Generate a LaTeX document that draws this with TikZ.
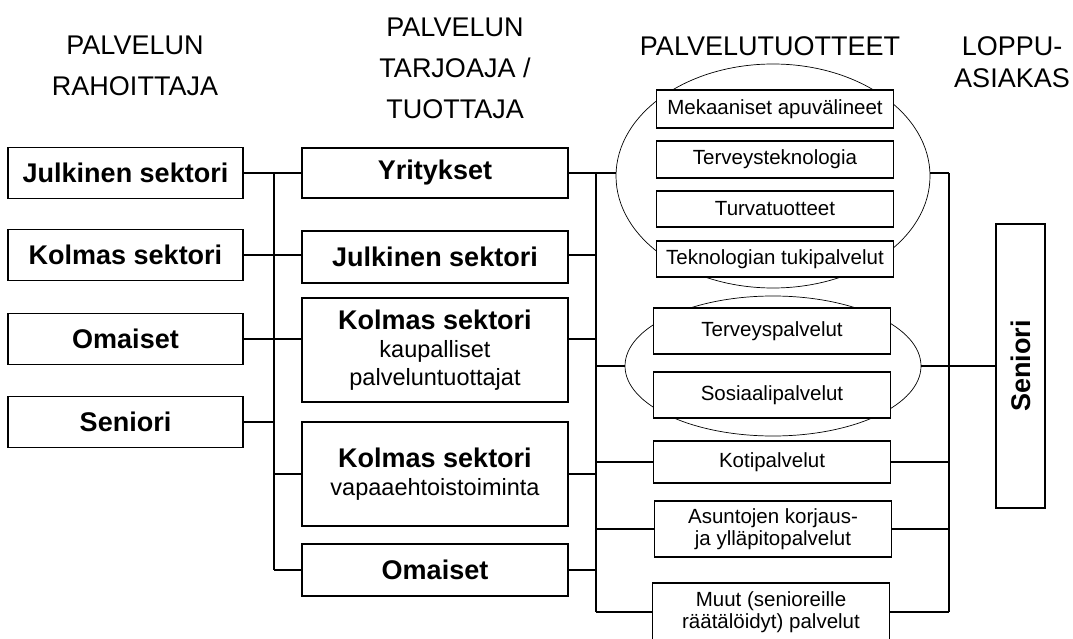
\documentclass[tikz,border=0pt]{standalone}
\usepackage{fontspec}
\setmainfont{Liberation Sans}
\usetikzlibrary{shapes.geometric}

\begin{document}
\begin{tikzpicture}[yscale=-1
  ,pstyle0/.style={draw=black,fill=white,line width=1.7pt,inner sep=0pt,minimum width=235pt,minimum height=51pt,align=center,font=\fontsize{27}{28}\selectfont\bfseries}
  ,pstyle1/.style={color=black,line width=1.7pt}
  ,pstyle2/.style={draw=black,ellipse,line width=0.7pt,inner sep=0pt}
  ,pstyle3/.style={color=black,align=center,font=\fontsize{27}{41}\selectfont}
  ,pstyle4/.style={draw=black,fill=white,line width=1.7pt,inner sep=0pt,minimum width=237pt,minimum height=37pt,align=center,font=\fontsize{20.5}{22}\selectfont}
  ,pstyle5/.style={pstyle0,minimum width=266pt}
]

\useasboundingbox (0pt,0pt) rectangle (1073pt,639pt);

% --- Headings ---
\node (h1) at (135pt,65.5pt)[pstyle3]{PALVELUN\\RAHOITTAJA};
\node (h2) at (455pt,68pt)[pstyle3]{PALVELUN\\TARJOAJA /\\TUOTTAJA};
\node (h3) at (770pt,46pt)[pstyle3]{PALVELUTUOTTEET};
\node (h4) at (1012pt,62pt)[pstyle3,font=\fontsize{27}{32}\selectfont]{LOPPU-\\ASIAKAS};

% --- Rahoittaja boxes ---
\node (c1a) at (125.5pt,173pt)[pstyle0]{Julkinen sektori};
\node (c1b) at (125.5pt,255pt)[pstyle0]{Kolmas sektori};
\node (c1c) at (125.5pt,339pt)[pstyle0]{Omaiset};
\node (c1d) at (125.5pt,422pt)[pstyle0]{Seniori};

% --- Tarjoaja / tuottaja boxes ---
\node (c2a) at (435pt,173pt)[pstyle5,minimum height=50pt]{Yritykset};
\node (c2b) at (435pt,257pt)[pstyle5,minimum height=52pt]{Julkinen sektori};
\node (c2c) at (435pt,350pt)[pstyle5,minimum height=104pt]{Kolmas sektori\\{\fontsize{23.5}{28}\selectfont\mdseries kaupalliset}\\{\fontsize{23.5}{28}\selectfont\mdseries palveluntuottajat}};
\node (c2d) at (435pt,474pt)[pstyle5,minimum height=104pt]{Kolmas sektori\\{\fontsize{23.5}{28}\selectfont\mdseries vapaaehtoistoiminta}};
\node (c2e) at (435pt,570pt)[pstyle5,minimum height=52pt]{Omaiset};

% --- Ellipses round the product groups ---
\node (e1) at (773pt,176pt)[pstyle2,minimum width=314pt,minimum height=224pt]{};
\node (e2) at (773pt,366pt)[pstyle2,minimum width=296pt,minimum height=140pt]{};

% --- Product boxes ---
\node (p1) at (775pt,109pt)[pstyle4,minimum height=38pt]{Mekaaniset apuvälineet};
\node (p2) at (775pt,159.5pt)[pstyle4]{Terveysteknologia};
\node (p3) at (775pt,209pt)[pstyle4,minimum height=36pt]{Turvatuotteet};
\node (p4) at (775pt,259pt)[pstyle4,minimum height=36pt]{Teknologian tukipalvelut};
\node (p5) at (772pt,331pt)[pstyle4,minimum height=46pt]{Terveyspalvelut};
\node (p6) at (772pt,395pt)[pstyle4,minimum height=46pt]{Sosiaalipalvelut};
\node (p7) at (772pt,462pt)[pstyle4,minimum height=42pt]{Kotipalvelut};
\node (p8) at (773pt,529pt)[pstyle4,minimum height=56pt]{Asuntojen korjaus-\\ja ylläpitopalvelut};
\node (p9) at (771pt,612pt)[pstyle4,minimum height=58pt]{Muut (senioreille\\räätälöidyt) palvelut};

% --- End customer ---
\node (sen) at (1020.5pt,366pt)[pstyle0,rotate=90,minimum width=284pt,minimum height=49pt]{Seniori};

% --- Buses ---
\coordinate (busL) at (274pt,0pt);
\coordinate (busM) at (596pt,0pt);
\coordinate (busR) at (949pt,0pt);

\draw[pstyle1] (busL |- c1a.east) -- (busL |- c2e.west);
\draw[pstyle1] (busM |- c2a.east) -- (busM |- p9.west);
\draw[pstyle1] (busR |- c2a.east) -- (busR |- p9.east);

% --- Rahoittaja to tarjoaja ---
\draw[pstyle1] (c1a.east) -- (c2a.west);
\draw[pstyle1] (c1b.east) -- (c2b.west |- c1b.east);
\draw[pstyle1] (c1c.east) -- (c2c.west |- c1c.east);
\draw[pstyle1] (c1d.east) -- (busL |- c1d.east);
\draw[pstyle1] (busL |- c2d.west) -- (c2d.west);
\draw[pstyle1] (busL |- c2e.west) -- (c2e.west);

% --- Tarjoaja to products ---
\draw[pstyle1] (c2a.east) -- (e1.west |- c2a.east);
\draw[pstyle1] (c2b.east |- c1b.east) -- (busM |- c1b.east);
\draw[pstyle1] (c2c.east |- c1c.east) -- (busM |- c1c.east);
\draw[pstyle1] (c2d.east) -- (busM |- c2d.east);
\draw[pstyle1] (c2e.east) -- (busM |- c2e.east);

\draw[pstyle1] (busM |- e2.west) -- (e2.west);
\draw[pstyle1] (busM |- p7.west) -- (p7.west);
\draw[pstyle1] (busM |- p8.west) -- (p8.west);
\draw[pstyle1] (busM |- p9.west) -- (p9.west);

% --- Products to seniori ---
\draw[pstyle1] (e1.east |- c2a.east) -- (busR |- c2a.east);
\draw[pstyle1] (e2.east) -- (sen.north);
\draw[pstyle1] (p7.east) -- (busR |- p7.east);
\draw[pstyle1] (p8.east) -- (busR |- p8.east);
\draw[pstyle1] (p9.east) -- (busR |- p9.east);

\end{tikzpicture}
\end{document}
